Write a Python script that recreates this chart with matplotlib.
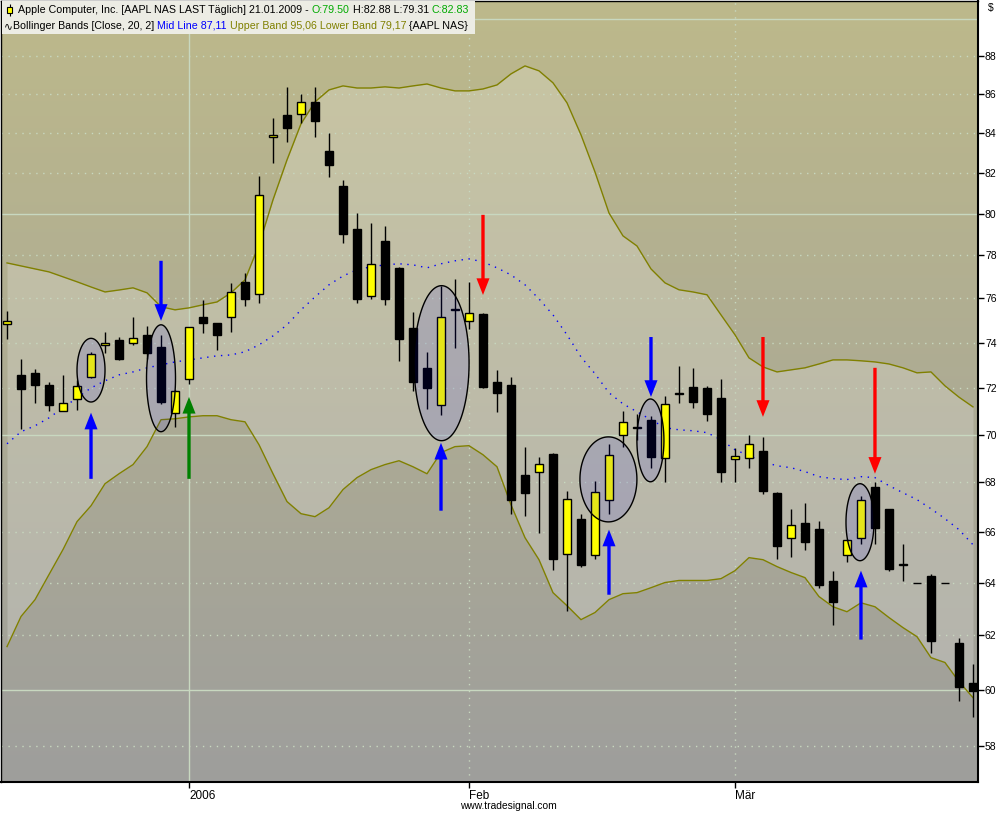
import matplotlib
matplotlib.use("Agg")
import matplotlib.pyplot as plt
import matplotlib.ticker as mticker
from matplotlib.colors import LinearSegmentedColormap
from matplotlib.patches import Rectangle
import numpy as np

plt.rcParams['font.family'] = ['Liberation Sans', 'DejaVu Sans']

# AAPL daily candles, 13.12.2005 - 24.03.2006
opens = [74.84, 72.57, 72.66, 72.14, 71.01, 71.53, 72.48, 73.90, 74.12, 73.99,
         74.34, 73.81, 70.92, 72.39, 75.15, 74.88, 75.15, 76.77, 76.21, 83.78,
         84.92, 84.97, 85.60, 83.10, 81.35, 79.26, 76.12, 78.70, 77.40, 74.65,
         72.88, 71.27, 75.47, 74.98, 75.30, 72.26, 72.13, 68.32, 68.44, 69.20,
         65.13, 66.50, 65.10, 67.30, 70.00, 70.28, 70.62, 69.00, 71.75, 72.03,
         72.00, 71.57, 68.98, 69.00, 69.30, 67.58, 65.76, 66.37, 66.10, 64.08,
         65.10, 65.76, 67.83, 66.90, 64.70, 64.00, 64.27, 64.00, 61.70, 60.25]
highs = [75.43, 73.28, 72.83, 72.27, 72.57, 72.35, 73.57, 74.47, 74.25, 75.15,
         74.75, 74.34, 71.90, 74.70, 75.94, 74.88, 76.72, 77.18, 81.85, 84.77,
         86.35, 86.00, 86.35, 84.00, 81.65, 80.03, 79.55, 79.40, 77.45, 75.40,
         73.57, 76.58, 76.90, 76.75, 75.35, 72.80, 72.48, 69.47, 69.07, 69.23,
         67.66, 66.73, 68.07, 69.60, 71.00, 70.88, 70.80, 71.65, 72.97, 72.88,
         72.10, 72.39, 69.43, 70.00, 69.90, 67.60, 66.90, 67.17, 66.44, 64.47,
         65.70, 67.46, 68.03, 66.90, 65.50, 64.00, 64.35, 64.00, 61.90, 60.95]
lows = [74.17, 70.25, 71.36, 71.01, 71.00, 71.05, 72.45, 73.55, 73.22, 73.90,
        73.27, 71.30, 70.30, 72.18, 74.43, 73.67, 74.47, 75.66, 75.80, 82.50,
        83.55, 84.50, 83.80, 81.80, 78.60, 75.80, 75.98, 75.70, 73.20, 71.88,
        71.10, 70.84, 73.75, 74.60, 72.00, 70.97, 66.73, 66.65, 65.97, 64.50,
        62.90, 64.60, 64.94, 66.70, 69.47, 69.78, 68.60, 68.00, 71.35, 71.14,
        70.58, 68.03, 68.00, 68.60, 67.54, 64.94, 65.00, 65.30, 63.78, 62.40,
        64.80, 65.50, 65.53, 64.47, 64.08, 64.00, 61.35, 64.00, 59.57, 59.03]
closes = [74.98, 71.96, 72.14, 71.27, 71.36, 72.09, 73.48, 74.00, 73.27, 74.20,
          73.53, 71.40, 71.87, 74.70, 74.88, 74.34, 76.30, 75.98, 80.91, 83.88,
          84.25, 85.60, 84.60, 82.40, 79.02, 75.98, 77.60, 75.98, 74.17, 72.26,
          72.00, 75.15, 75.50, 75.35, 72.03, 71.78, 67.30, 67.58, 68.77, 64.94,
          67.34, 64.70, 67.62, 69.15, 70.54, 70.30, 69.06, 71.30, 71.77, 71.39,
          70.88, 68.44, 69.10, 69.60, 67.67, 65.45, 66.28, 65.60, 63.90, 63.25,
          65.68, 67.30, 66.17, 64.55, 64.72, 64.00, 61.77, 64.00, 60.10, 59.96]

# Bollinger Bands (20, 2)
upper = [77.65, 77.51, 77.37, 77.23, 77.00, 76.77, 76.53, 76.30, 76.39, 76.49,
         76.26, 75.62, 75.48, 75.57, 75.71, 75.84, 76.26, 76.86, 78.50, 80.67,
         82.64, 84.46, 85.59, 86.21, 86.42, 86.31, 86.31, 86.37, 86.31, 86.42,
         86.52, 86.31, 86.16, 86.16, 86.26, 86.47, 87.05, 87.47, 87.21, 86.58,
         85.54, 83.90, 82.04, 80.03, 78.93, 78.45, 77.37, 76.72, 76.40, 76.30,
         76.17, 75.25, 74.35, 73.32, 72.92, 72.70, 72.79, 72.88, 73.05, 73.23,
         73.23, 73.19, 73.14, 73.05, 72.88, 72.66, 72.70, 72.09, 71.60, 71.18]
mid = [69.61, 70.12, 70.37, 70.71, 71.14, 71.57, 72.00, 72.31, 72.57, 72.70,
       72.88, 73.01, 73.14, 73.23, 73.32, 73.41, 73.45, 73.59, 73.90, 74.30,
       74.80, 75.48, 76.07, 76.63, 77.04, 77.33, 77.47, 77.56, 77.61, 77.56,
       77.42, 77.61, 77.75, 77.84, 77.70, 77.42, 77.09, 76.63, 75.98, 75.25,
       74.35, 73.36, 72.62, 71.79, 71.31, 70.97, 70.63, 70.29, 70.20, 70.16,
       70.08, 69.78, 69.36, 69.11, 68.86, 68.69, 68.61, 68.45, 68.24, 68.16,
       68.12, 68.24, 68.20, 67.87, 67.58, 67.30, 66.93, 66.53, 66.09, 65.49]
lower = [61.58, 62.71, 63.35, 64.32, 65.30, 66.41, 67.05, 67.95, 68.36, 68.74,
         69.49, 70.63, 70.67, 70.75, 70.80, 70.80, 70.63, 70.54, 69.57, 68.36,
         67.22, 66.73, 66.61, 66.97, 67.71, 68.20, 68.53, 68.74, 68.90, 68.65,
         68.36, 69.24, 69.49, 69.53, 69.15, 68.65, 67.09, 65.77, 64.90, 63.62,
         63.12, 62.59, 62.86, 63.35, 63.58, 63.62, 63.81, 64.01, 64.09, 64.09,
         64.09, 64.16, 64.47, 64.98, 64.90, 64.63, 64.40, 64.20, 63.47, 63.08,
         62.89, 63.23, 63.08, 62.67, 62.29, 61.95, 61.17, 60.99, 60.29, 59.71]

tick_pos = [13, 33, 52]
tick_lab = ['2006', 'Feb', 'Mär']

# marked patterns (ellipses): bar index of centre, width in bars, top / bottom price
ell_x = [6, 11, 31.04, 42.96, 45.96, 60.93]
ell_w = [2.0, 2.07, 3.93, 4.07, 1.93, 2.0]
ell_top = [74.19, 74.80, 76.59, 69.90, 71.52, 67.95]
ell_bot = [71.39, 70.12, 69.74, 66.40, 68.03, 64.86]

# signal arrows
arr_x = [6, 11, 13, 31, 34, 43, 46, 54, 62, 61]
arr_tail = [68.15, 77.75, 68.15, 66.85, 79.94, 63.54, 74.25, 74.25, 72.88, 61.84]
arr_tip = [70.93, 74.98, 71.61, 69.65, 76.16, 66.09, 71.61, 70.75, 68.36, 64.47]
arr_col = ['#0000ff', '#0000ff', '#008000', '#0000ff', '#ff0000',
           '#0000ff', '#0000ff', '#ff0000', '#ff0000', '#0000ff']

W, H = 1008, 813
fig = plt.figure(figsize=(W / 100, H / 100), dpi=100)
fig.patch.set_facecolor('white')
rect = [1 / W, 31 / H, 977 / W, 781 / H]

# background gradient
bg = fig.add_axes(rect, zorder=-1)
cmap = LinearSegmentedColormap.from_list('bg', ['#bdb98b', '#9e9e9c'])
bg.imshow(np.linspace(0, 1, 256).reshape(-1, 1), aspect='auto', cmap=cmap,
          extent=[0, 1, 0, 1])
bg.axis('off')

ax = fig.add_axes(rect)
ax.set_facecolor('none')
ax.set_yscale('log')

x = np.arange(len(closes))
ax.fill_between(x, lower, upper, color='white', alpha=0.2, lw=0, zorder=1)

# grid
for v in range(58, 92, 2):
    ls = '-' if v % 10 == 0 else (0, (1, 4))
    ax.axhline(v, color='#c8d8c0', lw=1, ls=ls, zorder=1.5)
for p in tick_pos:
    ls = '-' if p == tick_pos[0] else (0, (1, 4))
    ax.axvline(p, color='#c8d8c0', lw=1, ls=ls, zorder=1.5)

ax.plot(x, upper, color='#808000', lw=1, zorder=2)
ax.plot(x, lower, color='#808000', lw=1, zorder=2)
ax.plot(x, mid, color='#0000ff', lw=1, ls=(0, (1, 4)), zorder=2)

# candles
o = np.array(opens)
c = np.array(closes)
ax.vlines(x, lows, highs, color='black', lw=1, zorder=3)
ax.bar(x, np.abs(c - o), bottom=np.minimum(o, c), width=0.62,
       color=np.where(c >= o, '#ffff00', '#000000'), edgecolor='black',
       lw=1, zorder=4)

# ellipses
t = np.linspace(0, 2 * np.pi, 200)
for cx, w, top, bot in zip(ell_x, ell_w, ell_top, ell_bot):
    lc = (np.log(top) + np.log(bot)) / 2
    lh = (np.log(top) - np.log(bot)) / 2
    ax.fill(cx + w / 2 * np.cos(t), np.exp(lc + lh * np.sin(t)),
            facecolor=(0, 0, 1, 0.1), edgecolor='black', lw=1, zorder=5)

# arrows
for xa, tail, tip, col in zip(arr_x, arr_tail, arr_tip, arr_col):
    ax.annotate('', xy=(xa, tip), xytext=(xa, tail),
                arrowprops=dict(arrowstyle='simple,head_length=12,head_width=9.4,tail_width=2.4',
                                mutation_scale=1, color=col, lw=0,
                                shrinkA=0, shrinkB=0), zorder=6)

ax.set_xlim(-0.43, 69.36)
ax.set_ylim(56.74, 90.97)

ax.yaxis.tick_right()
ax.set_yticks(range(58, 90, 2))
ax.set_yticklabels([str(v) for v in range(58, 90, 2)])
ax.yaxis.set_minor_locator(mticker.NullLocator())
ax.tick_params(axis='y', direction='out', length=4, width=1, pad=1,
               labelsize=7.5, colors='black')
ax.set_xticks(tick_pos)
ax.set_xticklabels(tick_lab, ha='left')
ax.tick_params(axis='x', direction='out', length=4, width=1, pad=2,
               labelsize=8.5)
for s in ax.spines.values():
    s.set_color('black')
    s.set_linewidth(1)
ax.spines['right'].set_linewidth(1.5)
ax.spines['bottom'].set_linewidth(1.5)


def fx(px):
    return px / W


def fy(py):
    return 1 - py / H


fig.text(fx(988), fy(8), '$', fontsize=7.5, va='center', ha='left')
fig.text(fx(508), fy(806), 'www.tradesignal.com', fontsize=7.4, va='center', ha='center')

# header box
fig.patches.append(Rectangle((fx(2), fy(34)), 473 / W, 33 / H, transform=fig.transFigure,
                             facecolor='#ecece4', edgecolor='none', zorder=10))
fig.patches.append(Rectangle((fx(9.5), fy(16)), 0.01 / W, 12 / H, transform=fig.transFigure,
                             facecolor='black', edgecolor='black', lw=0.8, zorder=11))
fig.patches.append(Rectangle((fx(7), fy(13)), 5 / W, 6 / H, transform=fig.transFigure,
                             facecolor='#ffff00', edgecolor='black', lw=0.8, zorder=12))

renderer = fig.canvas.get_renderer()


def chain(pieces, x0, y0):
    xx = x0
    for s, col in pieces:
        tx = fig.text(fx(xx), fy(y0), s, color=col, fontsize=7.65, va='center',
                      ha='left', zorder=13)
        xx = tx.get_window_extent(renderer).x1


chain([('Apple Computer, Inc. [AAPL NAS LAST Täglich] 21.01.2009 - ', 'black'),
       ('O:79.50', '#00aa00'), (' H:82.88 L:79.31 ', 'black'), ('C:82.83', '#00aa00')],
      18, 10)
chain([('∿', 'black'), ('Bollinger Bands [Close, 20, 2] ', 'black'),
       ('Mid Line 87,11', '#0000ff'), (' Upper Band 95,06 Lower Band 79,17', '#808000'),
       (' {AAPL NAS}', 'black')], 4, 26)

fig.savefig('out.png', dpi=100)
